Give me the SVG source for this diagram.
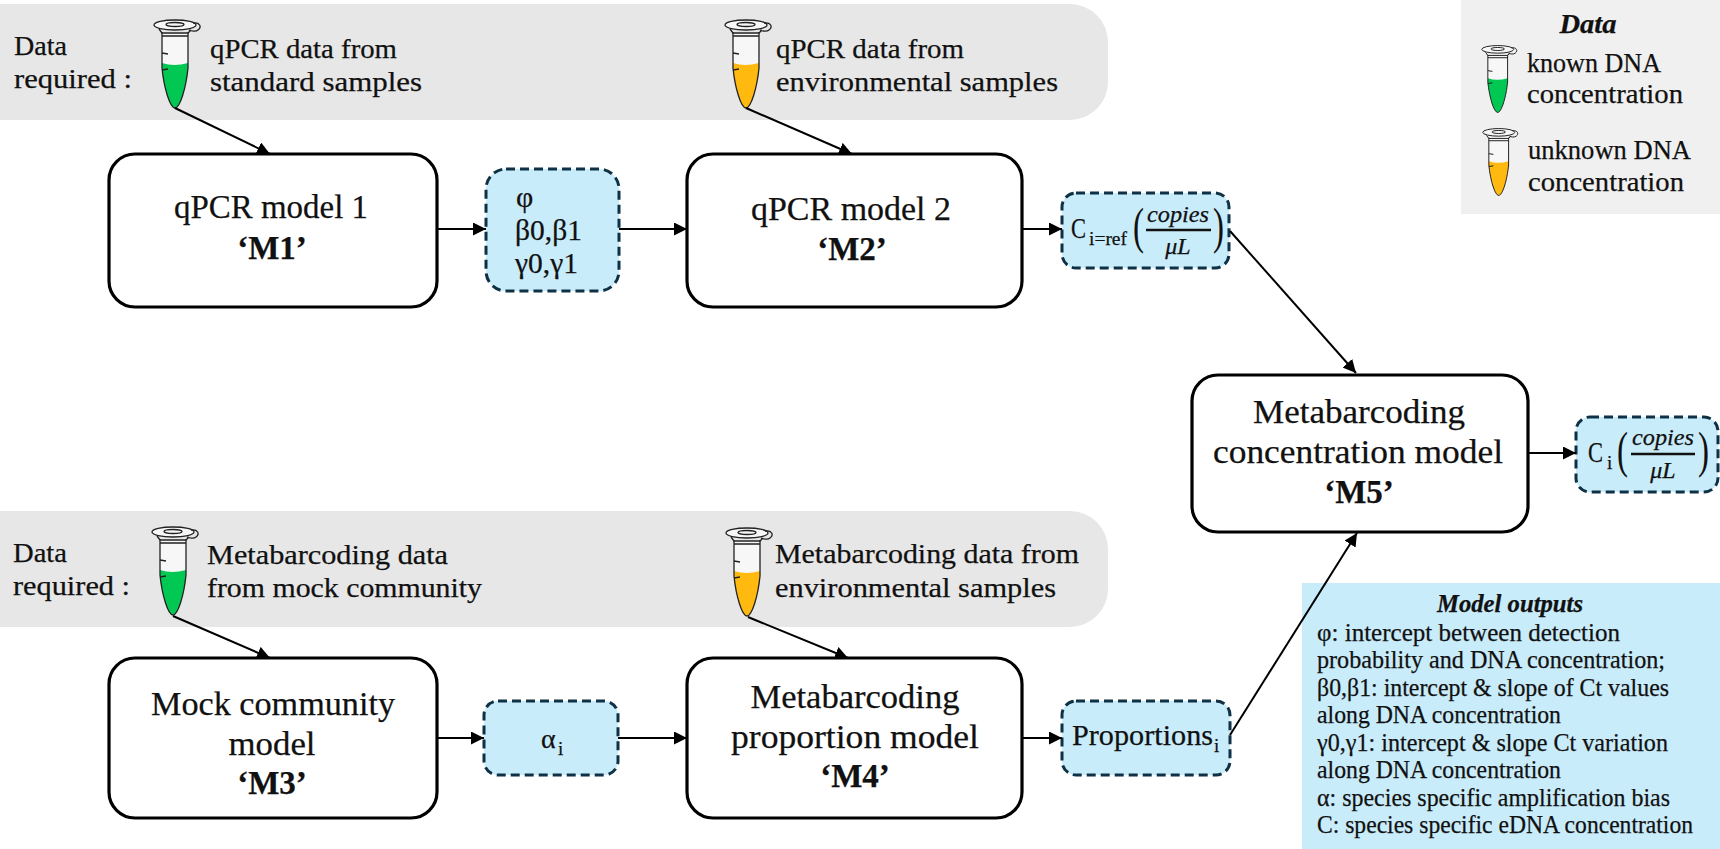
<svg xmlns="http://www.w3.org/2000/svg" width="1720" height="849" viewBox="0 0 1720 849">
<style>
text{font-family:"Liberation Serif","Times New Roman",serif;fill:#111;stroke:#111;stroke-width:.25}
.a{font-size:28px}
.t{font-size:33px}
.p{font-size:30px}
.b{font-weight:bold}
.c{text-anchor:middle}
.o{font-size:25px}
.f{font-size:24px}
.i{font-style:italic}
.s{font-size:19px}
.par{font-size:50px;stroke-width:0}
.model{fill:#fff;stroke:#000;stroke-width:3.2}
.out{fill:#c9ecfb;stroke:#0f3145;stroke-width:3;stroke-dasharray:9 5}
.band{fill:#e7e7e7}
.conn{fill:none;stroke:#000;stroke-width:2;marker-end:url(#arr)}
.bar{stroke:#111;stroke-width:2.4}
.tl{fill:none;stroke:#222;stroke-width:1.3}
.tb{fill:#f7f7f7;stroke:none}
</style>
<defs>
<marker id="arr" markerUnits="userSpaceOnUse" markerWidth="14" markerHeight="14" refX="13" refY="6.500" orient="auto"><path d="M0 0L13 6.500L0 13Z" fill="#000"/></marker>
<symbol id="tube" viewBox="0 0 50 92" width="50" height="92" overflow="visible">
<path class="tb" d="M9 14V50H35V14Z"/>
<path d="M9 45Q21 49 35 45L35 50C33 70 27 90 22 90C17 90 11 70 9 50Z"/>
<path class="tl" d="M9 14V50C11 70 17 90 22 90C27 90 33 70 35 50V14"/>
<ellipse class="tb" cx="22" cy="7" rx="21" ry="5"/>
<ellipse class="tl" cx="22" cy="7" rx="21" ry="5"/>
<ellipse class="tl" cx="22" cy="6.500" rx="9" ry="2"/>
<path class="tl" d="M40 5C47 4 49 9 45 12C43 14 38 13 36 12M6 11L9 15H35L38 12M9 18H35M9 35L15 36M9 52L15 51"/>
</symbol>
</defs>

<g id="band-top"><path class="band" d="M0 4H1070A38 38 0 0 1 1108 42V82A38 38 0 0 1 1070 120H0Z"/></g>
<g id="band-bottom"><path class="band" d="M0 511H1070A38 38 0 0 1 1108 549V589A38 38 0 0 1 1070 627H0Z"/></g>

<g id="outputs"><rect x="1302" y="583" width="418" height="266" fill="#c9ecfb"/>
<text class="o b i c" x="1510" y="612" textLength="146" lengthAdjust="spacingAndGlyphs">Model outputs</text>
<text class="o" x="1317" y="641" textLength="303" lengthAdjust="spacingAndGlyphs">φ: intercept between detection</text>
<text class="o" x="1317" y="668" textLength="348" lengthAdjust="spacingAndGlyphs">probability and DNA concentration;</text>
<text class="o" x="1317" y="696" textLength="352" lengthAdjust="spacingAndGlyphs">β0,β1: intercept &amp; slope of Ct values</text>
<text class="o" x="1317" y="723" textLength="244" lengthAdjust="spacingAndGlyphs">along DNA concentration</text>
<text class="o" x="1317" y="751" textLength="351" lengthAdjust="spacingAndGlyphs">γ0,γ1: intercept &amp; slope Ct variation</text>
<text class="o" x="1317" y="778" textLength="244" lengthAdjust="spacingAndGlyphs">along DNA concentration</text>
<text class="o" x="1317" y="806" textLength="353" lengthAdjust="spacingAndGlyphs">α: species specific amplification bias</text>
<text class="o" x="1317" y="833" textLength="376" lengthAdjust="spacingAndGlyphs">C: species specific eDNA concentration</text></g>

<g id="data-top-labels">
<text class="a" x="14" y="55" textLength="53" lengthAdjust="spacingAndGlyphs">Data</text>
<text class="a" x="14" y="88" textLength="118" lengthAdjust="spacingAndGlyphs">required :</text>
</g>
<g id="tube-standard"><use href="#tube" x="153" y="18" fill="#00c853"/>
<text class="a" x="210" y="58" textLength="187" lengthAdjust="spacingAndGlyphs">qPCR data from</text>
<text class="a" x="210" y="91" textLength="212" lengthAdjust="spacingAndGlyphs">standard samples</text></g>
<g id="tube-env"><use href="#tube" x="724" y="18" fill="#ffb90f"/>
<text class="a" x="776" y="58" textLength="188" lengthAdjust="spacingAndGlyphs">qPCR data from</text>
<text class="a" x="776" y="91" textLength="282" lengthAdjust="spacingAndGlyphs">environmental samples</text></g>

<g id="data-bottom-labels">
<text class="a" x="13" y="562" textLength="54" lengthAdjust="spacingAndGlyphs">Data</text>
<text class="a" x="13" y="595" textLength="117" lengthAdjust="spacingAndGlyphs">required :</text>
</g>
<g id="tube-mock"><use href="#tube" x="151" y="525" fill="#00c853"/>
<text class="a" x="207" y="564" textLength="241" lengthAdjust="spacingAndGlyphs">Metabarcoding data</text>
<text class="a" x="207" y="597" textLength="275" lengthAdjust="spacingAndGlyphs">from mock community</text></g>
<g id="tube-env2"><use href="#tube" x="725" y="526" fill="#ffb90f"/>
<text class="a" x="775" y="563" textLength="304" lengthAdjust="spacingAndGlyphs">Metabarcoding data from</text>
<text class="a" x="775" y="597" textLength="281" lengthAdjust="spacingAndGlyphs">environmental samples</text></g>

<g id="M1"><rect class="model" x="109" y="154" width="328" height="153" rx="26"/>
<text class="t c" x="271" y="218" textLength="194" lengthAdjust="spacingAndGlyphs">qPCR model 1</text>
<text class="t c b" x="272" y="259">‘M1’</text></g>
<g id="M2"><rect class="model" x="687" y="154" width="335" height="153" rx="26"/>
<text class="t c" x="851" y="220" textLength="200" lengthAdjust="spacingAndGlyphs">qPCR model 2</text>
<text class="t c b" x="852" y="260">‘M2’</text></g>
<g id="M3"><rect class="model" x="109" y="658" width="328" height="160" rx="26"/>
<text class="t c" x="273" y="715" textLength="244" lengthAdjust="spacingAndGlyphs">Mock community</text>
<text class="t c" x="272" y="755" textLength="87" lengthAdjust="spacingAndGlyphs">model</text>
<text class="t c b" x="272" y="794">‘M3’</text></g>
<g id="M4"><rect class="model" x="687" y="658" width="335" height="160" rx="26"/>
<text class="t c" x="855" y="708" textLength="209" lengthAdjust="spacingAndGlyphs">Metabarcoding</text>
<text class="t c" x="855" y="748" textLength="248" lengthAdjust="spacingAndGlyphs">proportion model</text>
<text class="t c b" x="855" y="787">‘M4’</text></g>
<g id="M5"><rect class="model" x="1192" y="375" width="336" height="157" rx="26"/>
<text class="t c" x="1359" y="423" textLength="212" lengthAdjust="spacingAndGlyphs">Metabarcoding</text>
<text class="t c" x="1358" y="463" textLength="290" lengthAdjust="spacingAndGlyphs">concentration model</text>
<text class="t c b" x="1359" y="503">‘M5’</text></g>

<g id="params"><rect class="out" x="486" y="169" width="133" height="122" rx="20"/>
<text class="p" x="516" y="207">φ</text>
<text class="p" x="515" y="240" textLength="67" lengthAdjust="spacingAndGlyphs">β0,β1</text>
<text class="p" x="515" y="273" textLength="63" lengthAdjust="spacingAndGlyphs">γ0,γ1</text></g>
<g id="alpha"><rect class="out" x="484" y="701" width="134" height="74" rx="14"/>
<text class="a" x="541" y="748">α</text><text class="s" x="558" y="755">i</text></g>
<g id="proportions"><rect class="out" x="1062" y="701" width="168" height="74" rx="14"/>
<text class="p" x="1072" y="745" textLength="141" lengthAdjust="spacingAndGlyphs">Proportions</text><text class="s" x="1214" y="752">i</text></g>

<g id="Cref"><rect class="out" x="1062" y="193" width="167" height="75" rx="14"/>
<text class="p" x="1071" y="238" textLength="15" lengthAdjust="spacingAndGlyphs">C</text>
<text class="s" x="1089" y="245" textLength="38" lengthAdjust="spacingAndGlyphs">i=ref</text>
<text class="par" x="1133" y="243" textLength="11" lengthAdjust="spacingAndGlyphs">(</text>
<text class="f i c" x="1178" y="222" textLength="62" lengthAdjust="spacingAndGlyphs">copies</text>
<line class="bar" x1="1146" y1="230" x2="1211" y2="230"/>
<text class="f i c" x="1178" y="254">μL</text>
<text class="par" x="1213" y="243" textLength="11" lengthAdjust="spacingAndGlyphs">)</text></g>

<g id="Ci"><rect class="out" x="1576" y="417" width="142" height="75" rx="14"/>
<text class="p" x="1588" y="462" textLength="15" lengthAdjust="spacingAndGlyphs">C</text>
<text class="s" x="1607" y="469">i</text>
<text class="par" x="1617" y="467" textLength="11" lengthAdjust="spacingAndGlyphs">(</text>
<text class="f i c" x="1663" y="445" textLength="62" lengthAdjust="spacingAndGlyphs">copies</text>
<line class="bar" x1="1631" y1="454" x2="1695" y2="454"/>
<text class="f i c" x="1663" y="478">μL</text>
<text class="par" x="1698" y="467" textLength="11" lengthAdjust="spacingAndGlyphs">)</text></g>

<g id="legend"><rect x="1461" y="0" width="259" height="214" fill="#f0f0f0"/>
<text class="a b i c" x="1588" y="33" textLength="57" lengthAdjust="spacingAndGlyphs">Data</text>
<use href="#tube" x="1481" y="44" width="38" height="70" fill="#00c853"/>
<text class="a" x="1527" y="72" textLength="134" lengthAdjust="spacingAndGlyphs">known DNA</text>
<text class="a" x="1527" y="103" textLength="156" lengthAdjust="spacingAndGlyphs">concentration</text>
<use href="#tube" x="1482" y="127" width="38" height="70" fill="#ffb90f"/>
<text class="a" x="1528" y="159" textLength="163" lengthAdjust="spacingAndGlyphs">unknown DNA</text>
<text class="a" x="1528" y="191" textLength="156" lengthAdjust="spacingAndGlyphs">concentration</text></g>

<g id="connectors">
<path class="conn" d="M175 108L270 154"/>
<path class="conn" d="M437 229H486"/>
<path class="conn" d="M619 229H687"/>
<path class="conn" d="M746 108L852 154"/>
<path class="conn" d="M1022 229H1062"/>
<path class="conn" d="M1230 231L1356 373"/>
<path class="conn" d="M1528 453H1576"/>
<path class="conn" d="M173 616L270 658"/>
<path class="conn" d="M748 617L848 658"/>
<path class="conn" d="M437 738H484"/>
<path class="conn" d="M618 738H687"/>
<path class="conn" d="M1022 738H1062"/>
<path class="conn" d="M1230 735L1357 533"/>
</g>
</svg>
